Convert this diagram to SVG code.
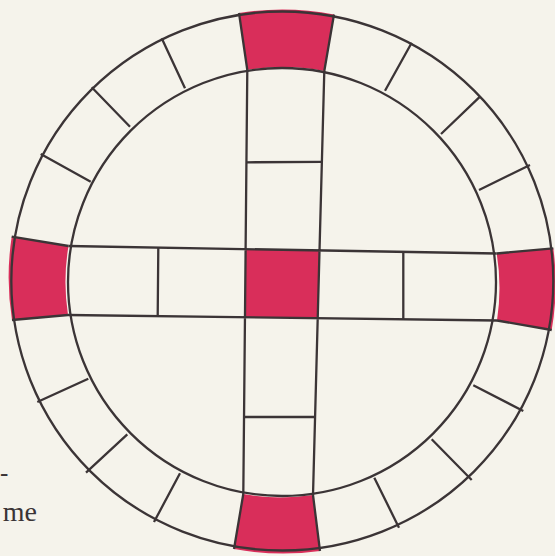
<svg xmlns="http://www.w3.org/2000/svg" width="555" height="556" viewBox="0 0 555 556">
<style>
.ln{fill:none;stroke:#3b3436;stroke-width:2.3;stroke-linecap:butt}
.red{fill:#d92e5a;stroke:none}
.txt{font-family:"Liberation Serif","DejaVu Serif",serif;fill:#3a3436}
</style>
<rect x="0" y="0" width="555" height="556" fill="#f5f3eb"/>
<g id="red-cells">
<path id="top-red" class="red" d="M239,13 A270,270 0 0 1 334,14.5 L324.3,71 A214,214 0 0 0 247.3,70 Z"/>
<path id="bottom-red" class="red" d="M243.3,494 A214,214 0 0 0 313,495 L320,551 A270,270 0 0 1 234,549 Z"/>
<path id="left-red" class="red" d="M11.7,236.7 L68.5,246 A214,214 0 0 0 68,315 L12,320 A270,270 0 0 1 11.7,236.7 Z"/>
<path id="right-red" class="red" d="M496.7,253.5 L553.3,248.3 A270,270 0 0 1 551.7,330 L497,320.5 A214,214 0 0 0 496.7,253.5 Z"/>
<path id="center-red" class="red" d="M245.6,249.1 L319.5,250.4 L317.7,318.2 L245,317.3 Z"/>
</g>
<g id="connectors">
<ellipse class="ln" cx="282.3" cy="281" rx="271" ry="269.5"/>
<circle class="ln" cx="282" cy="282" r="214"/>
<path class="ln" d="M247.3,70 L243.3,494 M324.3,71 L313,495 M68.5,246 L496.7,253.5 M68,315 L497,320.5"/>
<path class="ln" d="M247.3,70 L239,13 M324.3,71 L334,14.5 M243.3,494 L234,549 M313,495 L320,551 M68.5,246 L11.7,236.7 M68,315 L12,320 M496.7,253.5 L553.3,248.3 M497,320.5 L551.7,330"/>
<path class="ln" d="M246.4,162.3 L321.9,161.8 M244,417 L315.1,417 M158.3,247.6 L157.7,316.2 M403.3,251.9 L403.3,319.3"/>
<path class="ln" d="M161.7,38.3 L185,88.3 M91.7,87.3 L130,126.7 M40.7,154 L90.7,181.7 M411.7,42.7 L385,90.7 M480,96.7 L441,134 M530,165 L479,190 M37.3,402 L88.3,378.7 M86,472.7 L127.3,434.3 M154,522 L180,473.3 M523.3,411 L473.3,385.3 M471.7,480 L431.7,439.3 M399,527.7 L374.3,477.7"/>
</g>
<g id="page-text">
<text class="txt" x="0" y="481" font-size="25">-</text>
<text class="txt" x="37" y="520.5" font-size="28" text-anchor="end">me</text>
</g>
</svg>
